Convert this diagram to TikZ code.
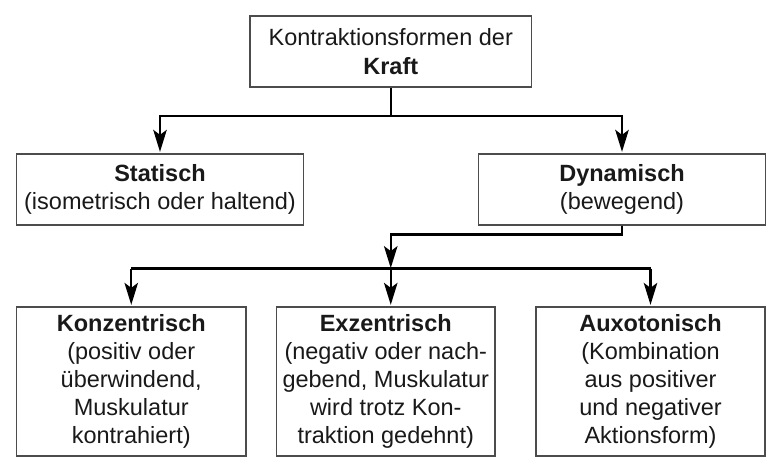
\documentclass[tikz,border=0pt]{standalone}
\usepackage{fontspec}
\setmainfont{Liberation Sans}
\usetikzlibrary{arrows.meta}
\begin{document}
\begin{tikzpicture}[x=1pt,y=-1pt,
  box/.style={draw=black!70, line width=1.3pt, align=center, inner sep=0pt,
    font=\fontsize{23.5}{28.2}\selectfont, text=black!90},
  conn/.style={line width=2.2pt, black},
  arr/.style={conn, -{Stealth[length=22pt, width=13.5pt, inset=5pt]}, shorten >=1.5pt}]
\useasboundingbox (0,0) rectangle (779,464);
\node[box, minimum width=281.5pt, minimum height=71pt] (top) at (390.75,51.5)
  {Kontraktionsformen der\\\textbf{Kraft}};
\node[box, minimum width=287pt, minimum height=71pt] (stat) at (160,189.5)
  {\textbf{Statisch}\\(isometrisch oder haltend)};
\node[box, minimum width=287pt, minimum height=71pt] (dyn) at (622,189.5)
  {\textbf{Dynamisch}\\(bewegend)};
\node[box, minimum width=229.5pt, minimum height=149pt] (kon) at (131.25,381.5)
  {\textbf{Konzentrisch}\\(positiv oder\\überwindend,\\Muskulatur\\kontrahiert)};
\node[box, minimum width=218.5pt, minimum height=149pt] (exz) at (385.75,381.5)
  {\textbf{Exzentrisch}\\(negativ oder nach-\\gebend, Muskulatur\\wird trotz Kon-\\traktion gedehnt)};
\node[box, minimum width=229pt, minimum height=149pt] (aux) at (650.5,381.5)
  {\textbf{Auxotonisch}\\(Kombination\\aus positiver\\und negativer\\Aktionsform)};
\coordinate (b1) at (390.75,116);
\coordinate (d1) at (622,234.5);
\coordinate (b2) at (390.75,268.5);
\draw[conn] (top.south) -- (b1);
\draw[arr] (b1) -| (stat.north);
\draw[arr] (b1) -| (dyn.north);
\draw[arr] (dyn.south) -- (d1) -| ([yshift=-1.1pt]b2);
\draw[conn] (b2 -| kon.north) -- (b2 -| aux.north);
\draw[arr] (b2 -| kon.north) -- (kon.north);
\draw[arr] (b2) -- (b2 |- exz.north);
\draw[arr] (b2 -| aux.north) -- (aux.north);
\end{tikzpicture}
\end{document}
